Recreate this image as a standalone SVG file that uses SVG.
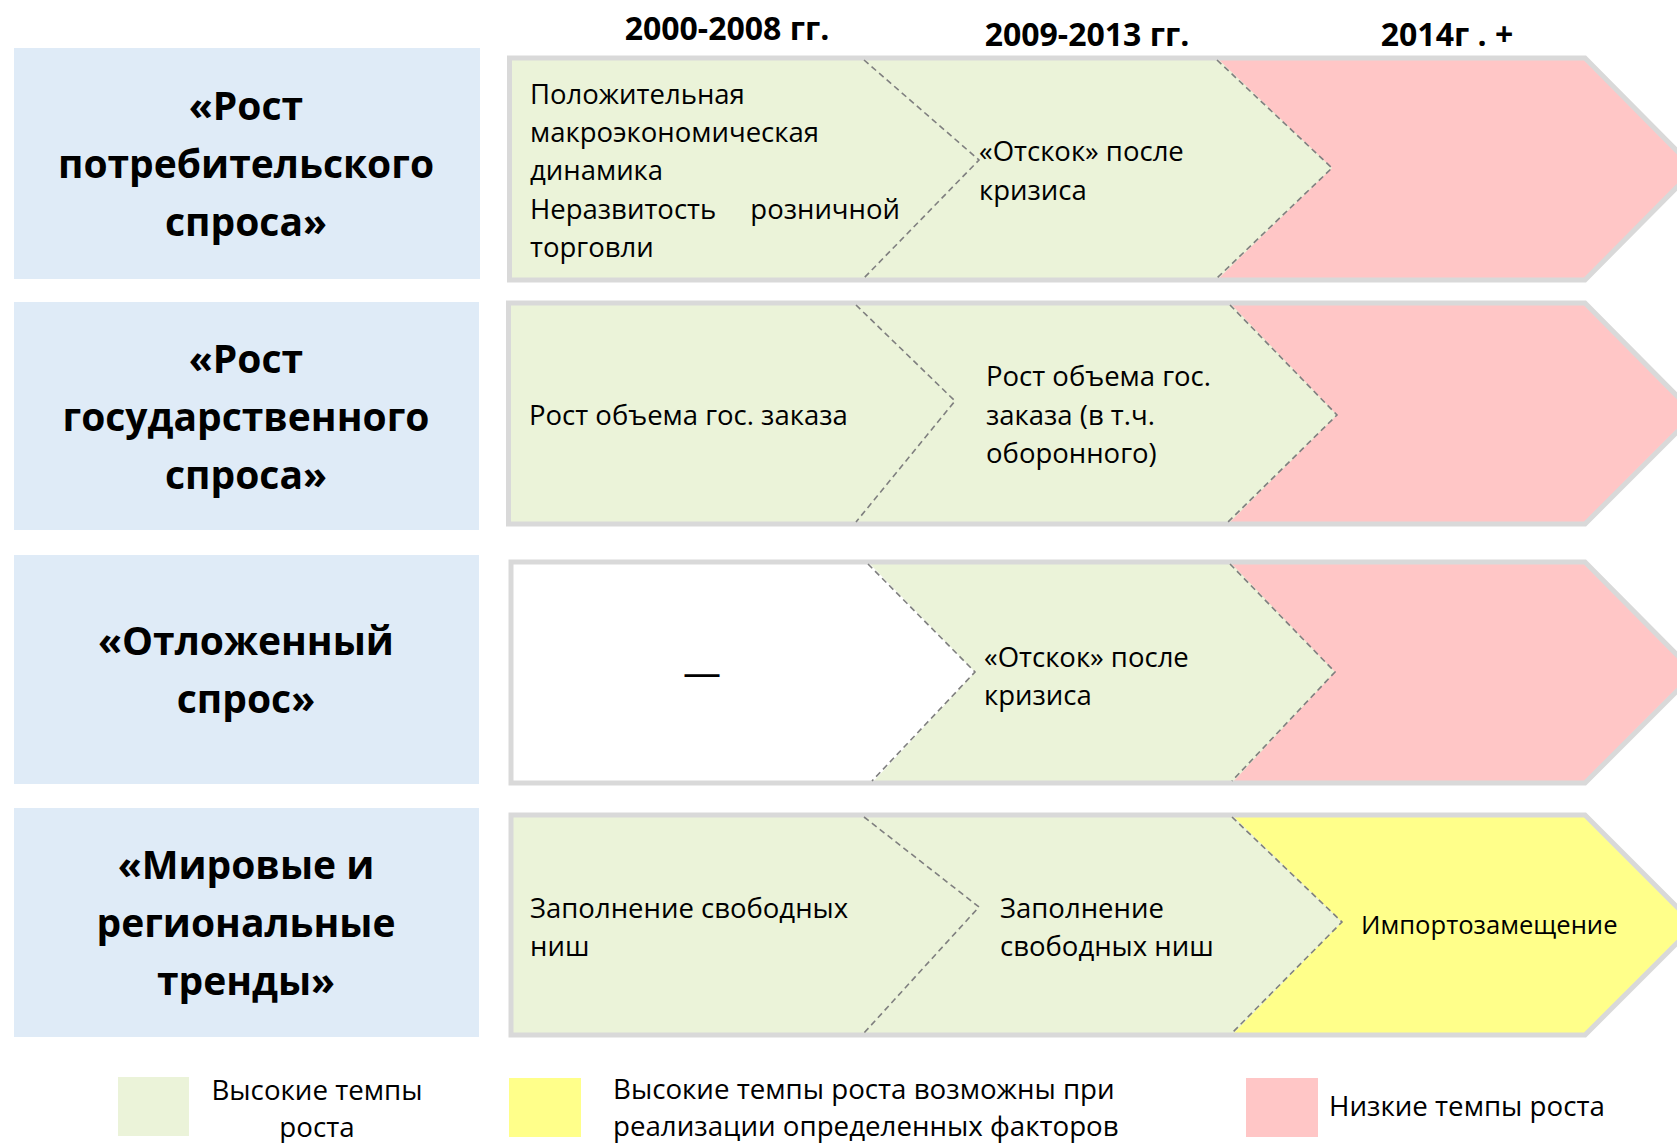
<svg xmlns="http://www.w3.org/2000/svg" width="1677" height="1143" viewBox="0 0 1677 1143">
<style>
.lbl{fill:#dfebf7}
.lt{font-family:"Open Sans","Noto Sans","DejaVu Sans",sans-serif;font-weight:bold;font-size:39px;fill:#000;text-anchor:middle}
.hd{font-family:"Open Sans","Noto Sans","DejaVu Sans",sans-serif;font-weight:bold;font-size:32px;fill:#000;text-anchor:middle}
.tx{font-family:"Open Sans","Noto Sans","DejaVu Sans",sans-serif;font-size:27.5px;fill:#000}
.lg{font-family:"Open Sans","Noto Sans","DejaVu Sans",sans-serif;font-size:27.7px;fill:#000}
.g{fill:#ebf3d9}
.p{fill:#ffc6c6}
.y{fill:#ffff8a}
.w{fill:#ffffff}
.brd{fill:none;stroke:#d9d9d9;stroke-width:5;stroke-linejoin:miter}
.dash{fill:none;stroke:#7f7f7f;stroke-width:1.6;stroke-dasharray:6 4}
</style>

<g id="headers">
<text class="hd" x="727" y="40">2000-2008 гг.</text>
<text class="hd" x="1087" y="46">2009-2013 гг.</text>
<text class="hd" x="1447" y="46">2014г . +</text>
</g>

<g id="label-1">
<rect class="lbl" x="14" y="48" width="466" height="231"/>
<text class="lt" x="246" y="120">«Рост</text>
<text class="lt" x="246" y="178">потребительского</text>
<text class="lt" x="246" y="236">спроса»</text>
</g>
<g id="label-2">
<rect class="lbl" x="14" y="302" width="465" height="228"/>
<text class="lt" x="246" y="373">«Рост</text>
<text class="lt" x="246" y="431">государственного</text>
<text class="lt" x="246" y="489">спроса»</text>
</g>
<g id="label-3">
<rect class="lbl" x="14" y="555" width="465" height="229"/>
<text class="lt" x="246" y="655">«Отложенный</text>
<text class="lt" x="246" y="713">спрос»</text>
</g>
<g id="label-4">
<rect class="lbl" x="14" y="808" width="465" height="229"/>
<text class="lt" x="246" y="879">«Мировые и</text>
<text class="lt" x="246" y="937">региональные</text>
<text class="lt" x="246" y="995">тренды»</text>
</g>

<g id="row-1">
<polygon class="g" points="509.5,58 1585,58 1695,169 1585,280 509.5,280"/>
<polygon class="p" points="1217,58 1585,58 1695,169 1585,280 1217,280 1332,168"/>
<polygon class="brd" points="509.5,58 1585,58 1695,169 1585,280 509.5,280"/>
<text class="tx" x="530" y="104">Положительная</text>
<text class="tx" x="530" y="142">макроэкономическая</text>
<text class="tx" x="530" y="180">динамика</text>
<text class="tx" y="219"><tspan x="530">Неразвитость</tspan><tspan x="900" text-anchor="end">розничной</tspan></text>
<text class="tx" x="530" y="257">торговли</text>
<text class="tx" x="979" y="161">«Отскок» после</text>
<text class="tx" x="979" y="200">кризиса</text>
</g>

<g id="row-2">
<polygon class="g" points="508.5,303 1585,303 1695,414 1585,524 508.5,524"/>
<polygon class="p" points="1230,303 1585,303 1695,414 1585,524 1228,524 1337,415"/>
<polygon class="brd" points="508.5,303 1585,303 1695,414 1585,524 508.5,524"/>
<text class="tx" x="529" y="425">Рост объема гос. заказа</text>
<text class="tx" x="986" y="386">Рост объема гос.</text>
<text class="tx" x="986" y="425">заказа (в т.ч.</text>
<text class="tx" x="986" y="463">оборонного)</text>
</g>

<g id="row-3">
<polygon class="g" points="511,562 1585,562 1695,673 1585,783 511,783"/>
<polygon class="w" points="511,562 868,562 975,672 872,783 511,783"/>
<polygon class="p" points="1230,562 1585,562 1695,673 1585,783 1232,783 1335,672"/>
<polygon class="brd" points="511,562 1585,562 1695,673 1585,783 511,783"/>
<text class="tx" x="702" y="686" text-anchor="middle" style="font-size:38px">—</text>
<text class="tx" x="984" y="667">«Отскок» после</text>
<text class="tx" x="984" y="705">кризиса</text>
</g>

<g id="row-4">
<polygon class="g" points="511,815 1585,815 1695,925 1585,1035 511,1035"/>
<polygon class="y" points="1232,815 1585,815 1695,925 1585,1035 1232,1035 1342,922"/>
<polygon class="brd" points="511,815 1585,815 1695,925 1585,1035 511,1035"/>
<text class="tx" x="530" y="918">Заполнение свободных</text>
<text class="tx" x="530" y="956">ниш</text>
<text class="tx" x="1000" y="918">Заполнение</text>
<text class="tx" x="1000" y="956">свободных ниш</text>
<text class="tx" x="1361" y="934" style="font-size:25.6px">Импортозамещение</text>
</g>

<g id="connectors">
<polyline class="dash" points="864,60 979,160 864,278"/>
<polyline class="dash" points="1217,60 1332,168 1217,278"/>
<polyline class="dash" points="856,305 955,401 856,522"/>
<polyline class="dash" points="1230,305 1337,415 1228,522"/>
<polyline class="dash" points="868,564 975,672 872,781"/>
<polyline class="dash" points="1230,564 1335,672 1232,781"/>
<polyline class="dash" points="864,817 979,907 864,1033"/>
<polyline class="dash" points="1232,817 1342,922 1232,1033"/>
</g>

<g id="legend">
<rect class="g" x="118" y="1077" width="71" height="59"/>
<text class="lg" x="317" y="1100" text-anchor="middle">Высокие темпы</text>
<text class="lg" x="317" y="1137" text-anchor="middle">роста</text>
<rect class="y" x="509" y="1078" width="72" height="59"/>
<text class="lg" x="613" y="1099">Высокие темпы роста возможны при</text>
<text class="lg" x="613" y="1136">реализации определенных факторов</text>
<rect class="p" x="1246" y="1078" width="72" height="59"/>
<text class="lg" x="1329" y="1116">Низкие темпы роста</text>
</g>
</svg>
